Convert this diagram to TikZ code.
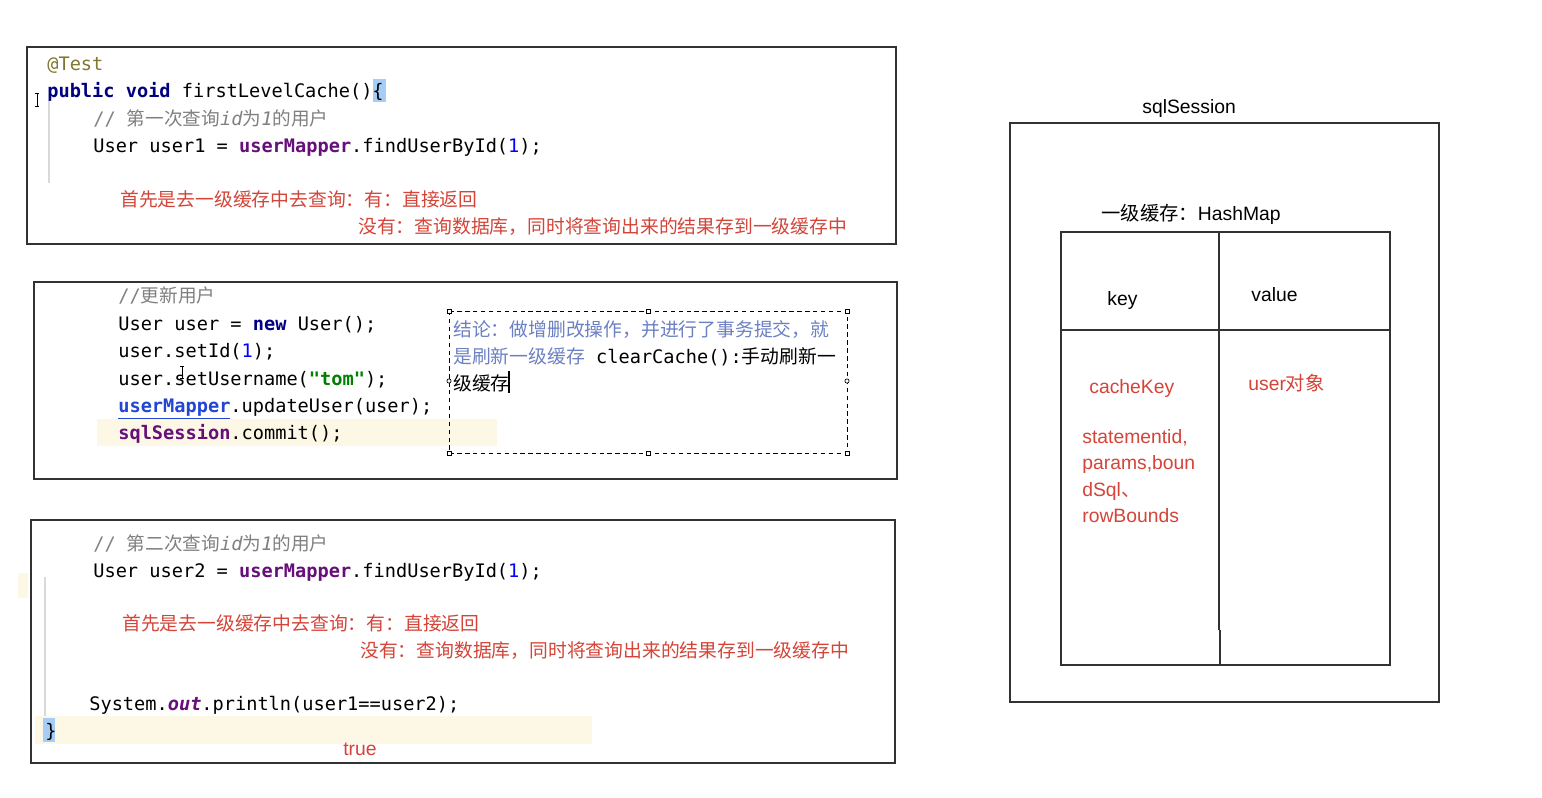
\documentclass[tikz,border=0pt]{standalone}
\usepackage{fontspec}
\setmainfont{Liberation Sans}
\setmonofont{DejaVu Sans Mono}
\newfontfamily\cjk{Noto Sans CJK SC}
\usetikzlibrary{positioning}

\definecolor{anno}{RGB}{128,120,48}
\definecolor{kwnavy}{RGB}{0,0,128}
\definecolor{fldpurple}{RGB}{102,14,122}
\definecolor{numblue}{RGB}{0,0,255}
\definecolor{cmtgray}{RGB}{128,128,128}
\definecolor{strgreen}{RGB}{0,128,0}
\definecolor{notered}{RGB}{212,68,56}
\definecolor{noteblue}{RGB}{108,128,196}
\definecolor{linehl}{RGB}{253,247,230}
\definecolor{bracehl}{RGB}{165,205,245}
\definecolor{linkblue}{RGB}{34,70,210}
\definecolor{frame}{RGB}{50,50,50}

\newcommand{\codefont}{\fontsize{10.6}{13}\selectfont\ttfamily}
\newcommand{\zhfont}{\fontsize{10.7}{13}\selectfont\cjk}
\newcommand{\labfont}{\fontsize{11}{13}\selectfont\rmfamily}
\newcommand{\kw}[1]{\textbf{\color{kwnavy}#1}}
\newcommand{\fld}[1]{\textbf{\color{fldpurple}#1}}
\newcommand{\numc}[1]{{\color{numblue}#1}}
\newcommand{\zh}[1]{{\cjk #1}}

\begin{document}
\begin{tikzpicture}[x=0.02cm,y=-0.02cm]
\tikzstyle{code}=[anchor=base west,inner sep=0,font=\codefont]
\tikzstyle{red}=[anchor=base west,inner sep=0,font=\zhfont,text=notered]
\tikzstyle{lab}=[anchor=base west,inner sep=0,font=\labfont]
\tikzstyle{panel}=[draw=frame,line width=0.65pt]
\useasboundingbox[fill=white] (0,0) rectangle (1542,798);

% highlights
\fill[bracehl] (373,79) rectangle (386,102);
\fill[linehl] (97,419) rectangle (497,446);
\fill[linehl] (35,716) rectangle (592,744);
\fill[bracehl] (43,718) rectangle (55,742);
\fill[linehl] (18,573) rectangle (28,598);

% first query
\draw[panel] (27,47) rectangle (896,244);
\draw[gray!30,line width=0.6pt] (49,100) -- (49,183);
\node[code] (test) at (47,70) {\color{anno}@Test};
\node[code] (method) at (47,97) {\kw{public void} firstLevelCache()\{};
\node[code] (cmt1) at (93,125) {\color{cmtgray}// \zh{第一次查询}\textit{id}\zh{为}\textit{1}\zh{的用户}};
\node[code] (find1) at (93,152) {User user1 = \fld{userMapper}.findUserById(\numc{1});};
\node[red] (hit1) at (120,206) {首先是去一级缓存中去查询：有：直接返回};
\node[red] (miss1) at (358,233) {没有：查询数据库，同时将查询出来的结果存到一级缓存中};
\draw[line width=0.5pt] (35,93) -- (39,93) (37,93) -- (37,106) (35,106) -- (39,106);

% update
\draw[panel] (34,282) rectangle (897,479);
\node[code] (cmt2) at (118,302) {\color{cmtgray}//\zh{更新用户}};
\node[code] (newu) at (118,330) {User user = \kw{new} User();};
\node[code] (setid) at (118,357) {user.setId(\numc{1});};
\node[code] (setname) at (118,385) {user.setUsername(\textbf{\color{strgreen}"tom"});};
\node[code] (upd) at (118,412) {\textbf{\color{linkblue}\underline{userMapper}}.updateUser(user);};
\node[code] (commit) at (118,439) {\fld{sqlSession}.commit();};
\draw[line width=0.5pt] (180,366) -- (184,366) (182,366) -- (182,378) (180,378) -- (184,378);

% note
\draw[line width=0.5pt,dash pattern=on 2.5pt off 2pt] (449,311) rectangle (847,453);
\foreach \p in {(449,311),(648,311),(847,311),(449,453),(648,453),(847,453)}
  \draw[fill=white,line width=0.4pt] \p ++(-2,-2) rectangle ++(4,4);
\foreach \p in {(449,381),(847,381)}
  \draw[fill=white,line width=0.4pt] \p circle (1.2pt);
\node[anchor=base west,inner sep=0,font=\zhfont,text=noteblue] (note1) at (453,336) {结论：做增删改操作，并进行了事务提交，就};
\node[anchor=base west,inner sep=0,font=\zhfont] (note2) at (453,363) {{\color{noteblue}是刷新一级缓存}{\codefont\ clearCache():}手动刷新一};
\node[anchor=base west,inner sep=0,font=\zhfont] (note3) at (453,390) {级缓存};
\draw[line width=0.6pt] (509,371) -- (509,393);

% second query
\draw[panel] (31,520) rectangle (895,763);
\draw[gray!30,line width=0.6pt] (45,577) -- (45,716);
\node[code] (cmt3) at (93,550) {\color{cmtgray}// \zh{第二次查询}\textit{id}\zh{为}\textit{1}\zh{的用户}};
\node[code] (find2) at (93,577) {User user2 = \fld{userMapper}.findUserById(\numc{1});};
\node[red] (hit2) at (122,630) {首先是去一级缓存中去查询：有：直接返回};
\node[red] (miss2) at (360,657) {没有：查询数据库，同时将查询出来的结果存到一级缓存中};
\node[code] (print) at (89,710) {System.\textbf{\textit{\color{fldpurple}out}}.println(user1==user2);};
\node[code] (close) at (45,737) {\}};
\node[lab,text=notered] (res) at (343,755) {true};

% sqlSession
\node[lab] (sess) at (1142,113) {sqlSession};
\draw[panel] (1010,123) rectangle (1439,702);
\node[lab] (map) at (1101,220) {\zh{一级缓存：}HashMap};
\draw[panel] (1061,232) rectangle (1390,665);
\draw[panel] (1061,330) -- (1390,330);
\draw[panel] (1219,232) -- (1219,630) (1220,630) -- (1220,665);
\node[lab] (key) at (1107,305) {key};
\node[lab] (val) at (1251,301) {value};
\node[lab,text=notered] (ckey) at (1089,393) {cacheKey};
\node[lab,text=notered] (uobj) at (1248,390) {user\zh{对象}};
\foreach \i/\t in {0/{statementid,},1/{params,boun},2/{dSql\zh{、}},3/{rowBounds}}
  \node[lab,text=notered] (part\i) at (1082,443+\i*26.5) {\t};
\end{tikzpicture}
\end{document}
